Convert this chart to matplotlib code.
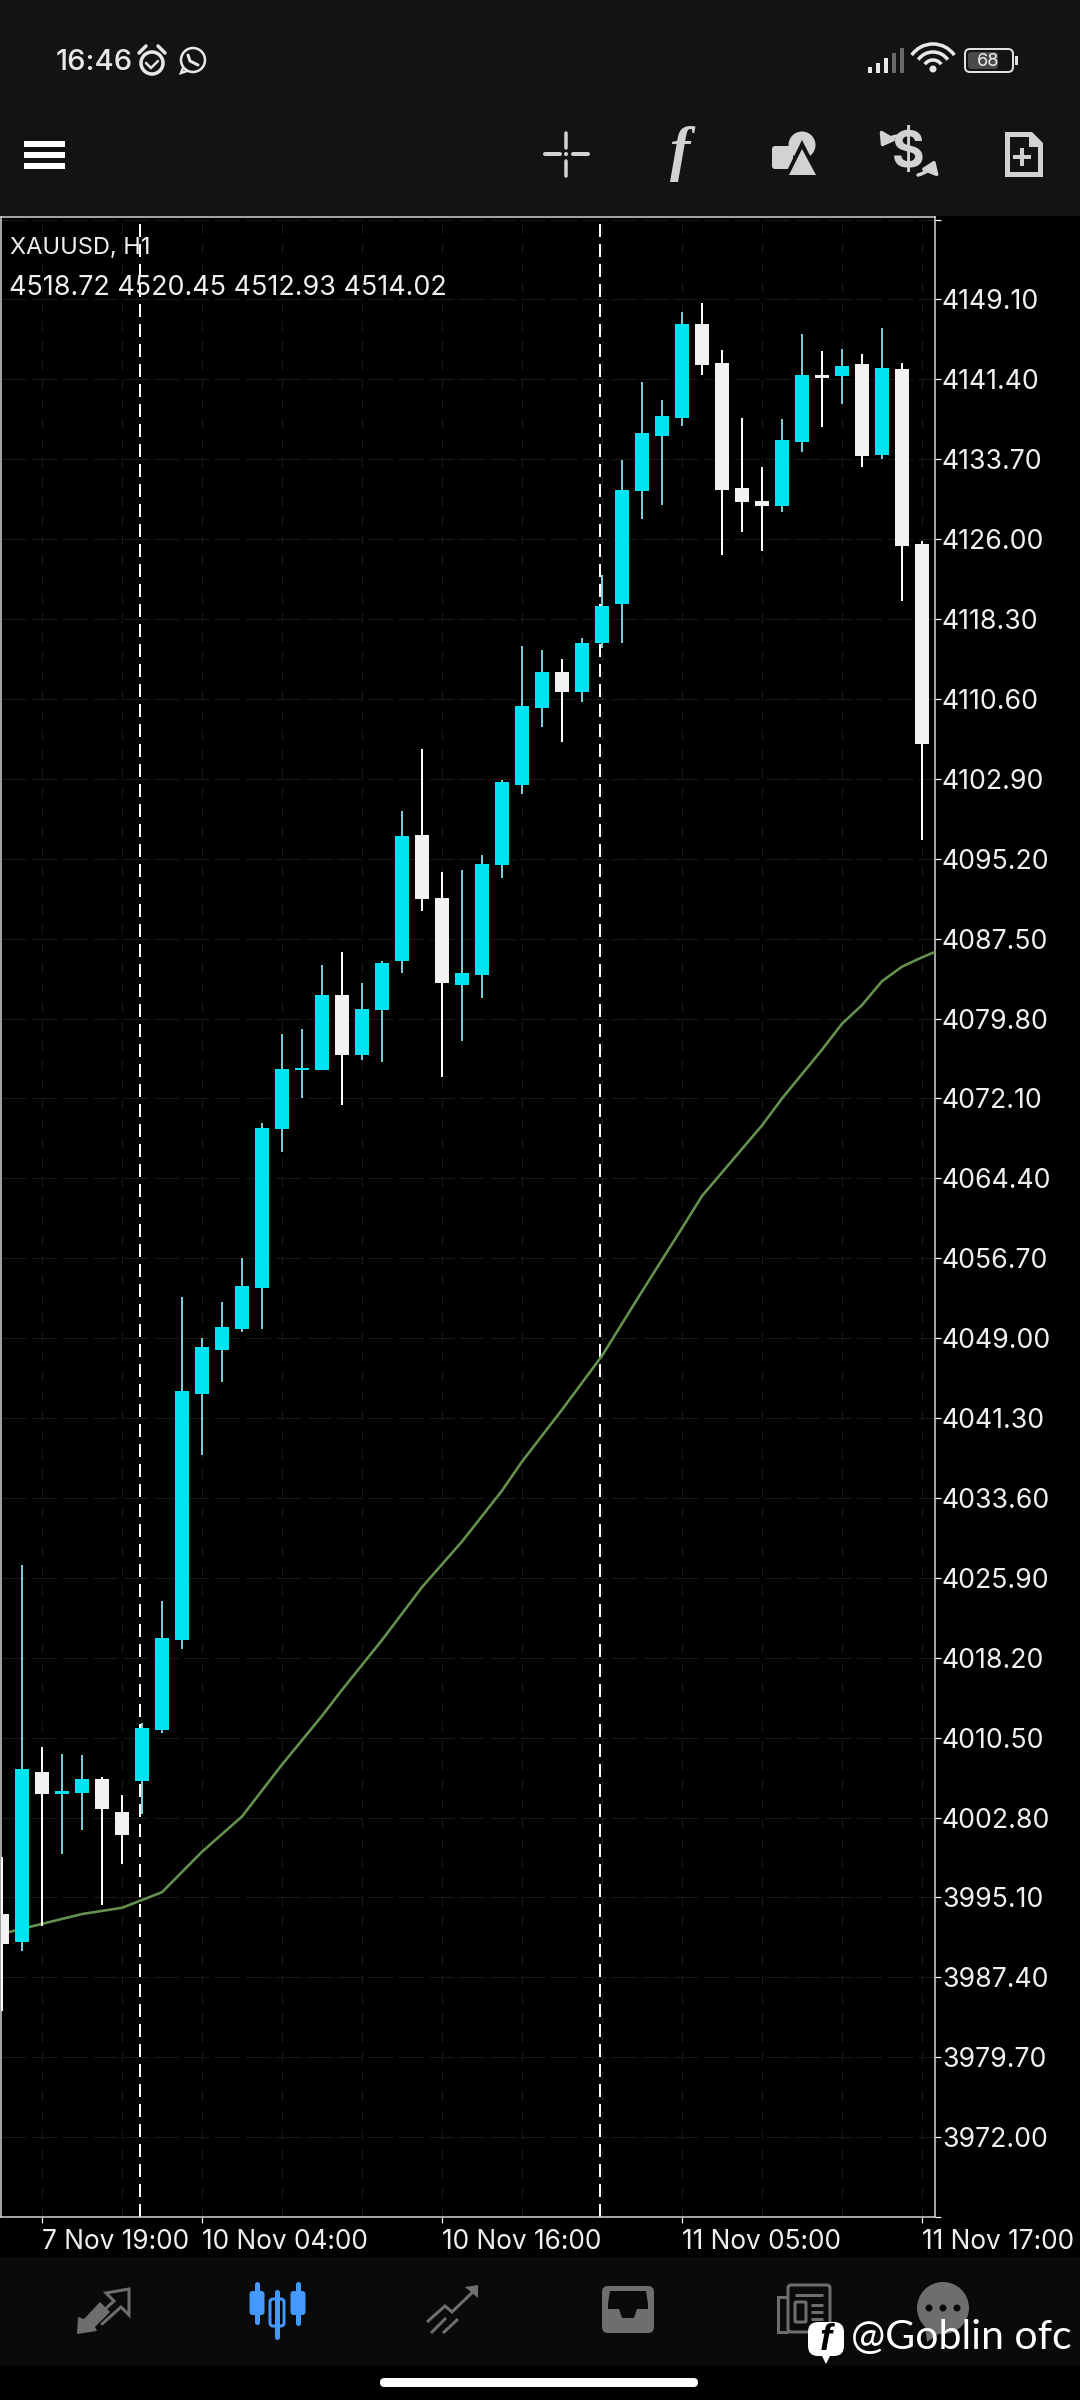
import matplotlib
matplotlib.use("Agg")
import matplotlib.pyplot as plt
from matplotlib.patches import Rectangle, Circle, Polygon, FancyBboxPatch, FancyArrowPatch, Arc

# ============== Daten ==============
opens = [3993.5, 3990.8, 4007.2, 4005.1, 4005.2, 4006.5, 4003.3, 4006.3, 4011.2, 4019.9,
         4043.6, 4047.9, 4049.9, 4053.8, 4069.2, 4074.8, 4074.8, 4082.1, 4076.3, 4080.6,
         4085.3, 4097.5, 4091.4, 4083.0, 4084.0, 4094.6, 4102.3, 4109.7, 4113.2, 4111.3,
         4116.0, 4119.8, 4130.6, 4135.9, 4137.7, 4146.7, 4143.0, 4130.9, 4129.7, 4129.2,
         4135.4, 4141.8, 4141.7, 4142.9, 4134.1, 4142.4, 4125.5]
closes = [3990.6, 4007.5, 4005.1, 4005.4, 4006.5, 4003.6, 4001.1, 4011.4, 4020.1, 4043.9,
          4048.1, 4050.1, 4054.0, 4069.3, 4074.9, 4075.0, 4082.1, 4076.3, 4080.7, 4085.2,
          4097.4, 4091.3, 4083.2, 4084.2, 4094.7, 4102.6, 4109.9, 4113.2, 4111.3, 4116.0,
          4119.6, 4130.7, 4136.2, 4137.9, 4146.7, 4142.8, 4130.7, 4129.6, 4129.2, 4135.6,
          4141.8, 4141.5, 4142.7, 4134.0, 4142.5, 4125.3, 4106.3]
highs = [3999.0, 4027.1, 4009.6, 4008.9, 4008.8, 4006.7, 4005.0, 4011.9, 4023.7, 4053.0,
         4049.0, 4052.5, 4056.7, 4069.7, 4078.3, 4078.8, 4085.0, 4086.2, 4083.2, 4085.3,
         4099.8, 4105.8, 4093.9, 4094.1, 4095.6, 4102.8, 4115.7, 4115.3, 4114.5, 4116.5,
         4122.5, 4133.6, 4141.1, 4139.4, 4147.9, 4148.8, 4144.2, 4137.7, 4133.0, 4137.6,
         4145.8, 4144.1, 4144.3, 4143.8, 4146.4, 4143.0, 4125.8]
lows = [3984.2, 3989.9, 3992.3, 3999.3, 4001.6, 3994.4, 3998.3, 4003.1, 4010.9, 4019.0,
        4037.7, 4044.8, 4049.6, 4049.9, 4066.9, 4072.1, 4074.8, 4071.5, 4075.8, 4075.6,
        4084.2, 4090.2, 4074.2, 4077.6, 4081.8, 4093.3, 4101.4, 4107.9, 4106.5, 4110.3,
        4115.5, 4116.0, 4127.9, 4129.3, 4136.9, 4141.8, 4124.5, 4126.7, 4124.9, 4128.6,
        4134.4, 4136.8, 4139.0, 4133.0, 4133.7, 4120.0, 4097.0]

ma_bars = [0, 4, 6, 8, 10, 12, 14, 16, 17, 19, 21, 23, 25, 26, 28, 30, 32, 34, 35, 38, 39,
           41, 42, 43, 44, 45, 46, 47]
ma_vals = [3991.6, 3993.5, 3994.1, 3995.6, 3999.5, 4002.9, 4007.9, 4012.6, 4015.1, 4019.9,
           4025.0, 4029.4, 4034.3, 4037.1, 4042.1, 4047.3, 4053.5, 4059.6, 4062.7, 4069.5,
           4072.1, 4076.8, 4079.3, 4081.1, 4083.4, 4084.8, 4085.7, 4086.5]

price_ticks = [4156.8, 4149.1, 4141.4, 4133.7, 4126.0, 4118.3, 4110.6, 4102.9, 4095.2, 4087.5,
               4079.8, 4072.1, 4064.4, 4056.7, 4049.0, 4041.3, 4033.6, 4025.9, 4018.2, 4010.5,
               4002.8, 3995.1, 3987.4, 3979.7, 3972.0, 3964.3]
hidden_price_ticks = [4156.8, 3964.3]

time_ticks = [2, 10, 22, 34, 46]
time_labels = ["7 Nov 19:00", "10 Nov 04:00", "10 Nov 16:00", "11 Nov 05:00", "11 Nov 17:00"]
grid_bars = [2, 6, 10, 14, 18, 22, 26, 30, 34, 38, 42, 46]
separators = [6.9, 29.9]

# ============== Stil ==============
CYAN = "#00e3f2"
CYAN_WICK = "#7ccbd9"
WHITE = "#f2f2f2"
MA_GREEN = "#64924e"
GRID = "#191919"
FRAME = "#d8d8d8"
BAR_BG = "#131313"
NAV_BG = "#0a0a0a"
ICON = "#d2d2d2"
NAV_ICON = "#6e6e6e"
BLUE = "#4499ff"
FONT = "Inter"
PX = 0.72  # 1 Pixel in Punkt bei dpi=100

plt.rcParams["lines.scale_dashes"] = False
plt.rcParams["font.family"] = [FONT, "DejaVu Sans"]

fig = plt.figure(figsize=(10.8, 24), dpi=100, facecolor="black")


def px_axes(zorder):
    a = fig.add_axes([0, 0, 1, 1], zorder=zorder)
    a.set_xlim(0, 1080)
    a.set_ylim(2400, 0)
    a.axis("off")
    a.patch.set_alpha(0)
    return a


bg = px_axes(0)
bg.add_patch(Rectangle((0, 0), 1080, 216, color=BAR_BG, lw=0))
bg.add_patch(Rectangle((0, 2257), 1080, 108, color=NAV_BG, lw=0))

# ============== Chart ==============
ax = fig.add_axes([1 / 1080, (2400 - 2217) / 2400, 934 / 1080, 2000 / 2400], zorder=1)
ax.set_facecolor("black")
ax.set_xlim(-0.05, 46.65)
ax.set_ylim(3964.3, 4157.05)

for y in price_ticks:
    ax.axhline(y, color=GRID, lw=1 * PX, ls=(0, (18, 4)), zorder=1)
for b in grid_bars:
    ax.axvline(b, color=GRID, lw=1 * PX, ls=(0, (7, 7)), zorder=1)

# Periodentrenner liegen unter den Kerzen
for s in separators:
    ax.axvline(s, color="white", lw=2 * PX, ls=(0, (9.4, 5)), zorder=2)

ax.plot(ma_bars, ma_vals, color=MA_GREEN, lw=2.6 * PX, zorder=3)

bars = list(range(len(opens)))
for i in bars:
    up = closes[i] >= opens[i]
    ax.vlines(i, lows[i], highs[i], color=CYAN_WICK if up else "white", lw=2 * PX, zorder=4)
    low_body, high_body = min(opens[i], closes[i]), max(opens[i], closes[i])
    ax.bar(i, high_body - low_body, bottom=low_body, width=0.7, color=CYAN if up else WHITE,
           linewidth=0, zorder=5)

for sp in ax.spines.values():
    sp.set_color(FRAME)
    sp.set_linewidth(1.5 * PX)

ax.yaxis.tick_right()
ax.set_yticks(price_ticks)
ax.set_yticklabels(["" if p in hidden_price_ticks else f"{p:.2f}" for p in price_ticks])
ax.tick_params(axis="y", colors="white", length=6 * PX, width=1.2 * PX, pad=0.6, labelsize=19.2)
ax.set_xticks(time_ticks)
ax.set_xticklabels(time_labels)
ax.tick_params(axis="x", colors="white", length=6 * PX, width=1.2 * PX, pad=4, labelsize=18.9)
for lab in ax.get_xticklabels():
    lab.set_ha("left")
for lab in ax.get_xticklabels() + ax.get_yticklabels():
    lab.set_color("#f0f0f0")

# ============== Oberflaeche ==============
ui = px_axes(2)


def poly(pts, color, **kw):
    ui.add_patch(Polygon(pts, closed=True, facecolor=color, edgecolor="none", **kw))


def stroke(pts, color, lw=3, cap="round"):
    xs, ys = zip(*pts)
    ui.plot(xs, ys, color=color, lw=lw * PX, solid_capstyle=cap, solid_joinstyle="miter")


def rrect(x, y, w, h, r, fc, ec="none", lw=0):
    ui.add_patch(FancyBboxPatch((x + r, y + r), w - 2 * r, h - 2 * r,
                                boxstyle=f"round,pad={r},rounding_size={r}",
                                facecolor=fc, edgecolor=ec, lw=lw * PX))


# Statusleiste
ui.text(56, 63, "16:46", color="#e8e8e8", fontsize=21, fontweight="medium", va="center", ha="left")
ui.add_patch(Circle((152, 63), 11, fill=False, ec="#e8e8e8", lw=3.5 * PX))
stroke([(146, 63), (151, 68), (158, 61)], "#e8e8e8", 2.5)
stroke([(139, 53), (146, 46)], "#e8e8e8", 3.5)
stroke([(165, 53), (158, 46)], "#e8e8e8", 3.5)
ui.add_patch(Circle((193, 60), 12, fill=False, ec="#e8e8e8", lw=2.5 * PX))
stroke([(183, 68), (181, 73), (187, 71)], "#e8e8e8", 2.5)
stroke([(188, 55), (190, 61), (198, 65)], "#e8e8e8", 3)

for k, (bx, h) in enumerate(zip([870, 878, 886, 894, 902], [6, 10, 15, 20, 25])):
    stroke([(bx, 73), (bx, 73 - h)], "#e8e8e8" if k < 3 else "#6a6a6a", 4, "butt")

for r, lw in [(24, 3.5), (16, 3.5), (8, 3.5)]:
    ui.add_patch(Arc((933, 70), 2 * r + 4, 2 * r + 4, theta1=215, theta2=325, ec="#e8e8e8", lw=lw * PX))
ui.add_patch(Circle((933, 69), 3.5, color="#e8e8e8", lw=0))

rrect(965, 49, 48, 23, 5, "none", "#e0e0e0", 2)
rrect(968, 52, 30, 17, 3, "#4a4a4a")
ui.add_patch(Rectangle((1015, 56), 3, 9, color="#e0e0e0", lw=0))
ui.text(988, 61, "68", color="#f0f0f0", fontsize=13, va="center", ha="center")

# Werkzeugleiste
for y in [141, 152, 163]:
    ui.add_patch(Rectangle((24, y), 41, 5.5, color="white", lw=0))

stroke([(545, 154), (560, 154)], ICON, 4)
stroke([(573, 154), (588, 154)], ICON, 4)
stroke([(566, 133), (566, 148)], ICON, 3.5)
stroke([(566, 161), (566, 176)], ICON, 3.5)
ui.add_patch(Circle((566, 154), 2, color=ICON, lw=0))

ui.text(680, 154, "f", color=ICON, fontsize=44, style="italic", fontweight="bold",
        family="Liberation Serif", va="center", ha="center")

rrect(772, 146, 21, 23, 3, ICON)
ui.add_patch(Circle((802, 145), 13.5, color=ICON, lw=0))
poly([(802, 140), (822, 179), (783, 179)], BAR_BG)
poly([(802, 149), (816, 175), (789, 175)], ICON)

ui.text(908, 154, "$", color=ICON, fontsize=36, fontweight="bold", va="center", ha="center")
ui.add_patch(FancyArrowPatch((898, 136), (881, 147), connectionstyle="arc3,rad=0.25",
                             arrowstyle="-|>,head_length=7,head_width=5", color=ICON, lw=3.5 * PX,
                             shrinkA=0, shrinkB=0))
ui.add_patch(FancyArrowPatch((918, 175), (935, 160), connectionstyle="arc3,rad=0.25",
                             arrowstyle="-|>,head_length=7,head_width=5", color=ICON, lw=3.5 * PX,
                             shrinkA=0, shrinkB=0))

poly([(1005, 132), (1032, 132), (1043, 143), (1043, 177), (1005, 177)], ICON)
poly([(1010, 137), (1029, 137), (1029, 147), (1038, 147), (1038, 172), (1010, 172)], BAR_BG)
stroke([(1013, 157), (1031, 157)], ICON, 4, "butt")
stroke([(1022, 148), (1022, 166)], ICON, 4, "butt")

# Chart-Beschriftung
ui.text(10, 248, "XAUUSD, H1", color="#f0f0f0", fontsize=17, va="center", ha="left")
ui.text(9, 288, "4518.72 4520.45 4512.93 4514.02", color="#f0f0f0", fontsize=19.4, va="center", ha="left")

# Navigationsleiste
poly([(77, 2334), (78, 2317), (84, 2319), (100, 2302), (110, 2312), (95, 2327), (97, 2331)], NAV_ICON)
stroke([(102, 2324), (121, 2307), (129, 2315), (129, 2289), (106, 2293), (114, 2301), (103, 2311)],
       NAV_ICON, 3)

for cx, top, bot, wtop, wbot in [(257, 2291, 2315, 2284, 2322), (298, 2291, 2315, 2284, 2323)]:
    stroke([(cx, wtop), (cx, wbot)], BLUE, 5)
    rrect(cx - 7.5, top, 15, bot - top, 3, BLUE)
stroke([(277, 2292), (277, 2337)], BLUE, 5)
rrect(270, 2299, 14, 27, 3, "black", BLUE, 3)

stroke([(427, 2322), (445, 2306), (452, 2312), (477, 2288)], NAV_ICON, 3, "butt")
poly([(465, 2287), (478, 2285), (478, 2298)], NAV_ICON)
stroke([(431, 2333), (446, 2318)], NAV_ICON, 3, "butt")
stroke([(443, 2333), (458, 2319)], NAV_ICON, 3, "butt")

rrect(602, 2286, 52, 47, 6, NAV_ICON)
poly([(610, 2291), (646, 2291), (648, 2304), (648, 2309), (637, 2309), (634, 2318), (622, 2318),
      (619, 2309), (608, 2309), (608, 2304)], NAV_BG)

rrect(788, 2285, 42, 47, 3, "none", NAV_ICON, 3)
stroke([(795, 2295), (823, 2295)], NAV_ICON, 3, "butt")
rrect(795, 2302, 11, 20, 1, "none", NAV_ICON, 3)
for y in [2305, 2312, 2319]:
    stroke([(811, y), (823, y)], NAV_ICON, 3, "butt")
stroke([(787, 2297), (778, 2297), (778, 2332), (788, 2332)], NAV_ICON, 3, "butt")

ui.add_patch(Circle((943, 2308), 26, color=NAV_ICON, lw=0))
poly([(925, 2325), (940, 2333), (927, 2342)], NAV_ICON)
for dx in [-14, 0, 14]:
    ui.add_patch(Circle((943 + dx, 2308), 3.5, color=NAV_BG, lw=0))

# Wasserzeichen
rrect(808, 2322, 36, 34, 10, "white")
poly([(820, 2352), (832, 2352), (826, 2364)], "white")
ui.text(826, 2340, "f", color="black", fontsize=26, fontweight="bold", style="italic",
        family="Liberation Sans", va="center", ha="center")
ui.text(851, 2338, "@Goblin ofc", color="white", fontsize=29.5, family="Lato",
        va="center", ha="left")

rrect(380, 2378, 318, 9, 4.4, "white")

fig.savefig("out.png", dpi=100, facecolor="black")
